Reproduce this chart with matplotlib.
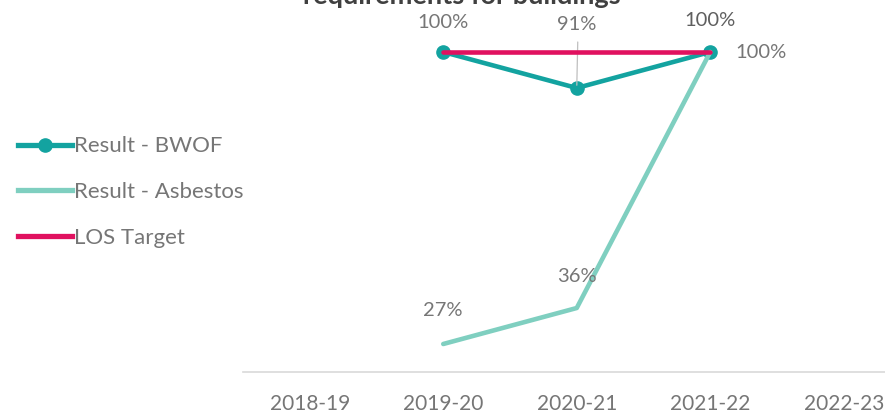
import matplotlib
matplotlib.use("Agg")
import matplotlib.pyplot as plt
from matplotlib.lines import Line2D

plt.rcParams['font.family'] = ['Lato', 'DejaVu Sans']

categories = ["2018-19", "2019-20", "2020-21", "2021-22", "2022-23"]
bwof = [None, 100, 91, 100, None]
asbestos = [None, 27, 36, 100, None]
los_target = [None, 100, 100, 100, None]
title = "requirements for buildings"

C_BWOF = "#13a3a0"
C_ASB = "#7fcfc0"
C_LOS = "#e0115f"
C_TXT = "#767676"

W, H = 885, 413
fig = plt.figure(figsize=(W / 100, H / 100), dpi=100)
ax = fig.add_axes([243 / W, 41 / H, 667.5 / W, 372 / H])

x = list(range(len(categories)))

def pts(vals):
    xs = [i for i, v in zip(x, vals) if v is not None]
    ys = [v for v in vals if v is not None]
    return xs, ys

lw = 3.3
xb, yb = pts(bwof)
ax.plot(xb, yb, color=C_BWOF, lw=lw, marker='o', ms=9.5, solid_capstyle='round', zorder=3)
xa, ya = pts(asbestos)
ax.plot(xa, ya, color=C_ASB, lw=lw, solid_capstyle='round', zorder=4)
xl, yl = pts(los_target)
ax.plot(xl, yl, color=C_LOS, lw=lw, solid_capstyle='round', zorder=5)

ax.set_xlim(-0.5, 4.5)
ax.set_ylim(20, 113)
ax.set_xticks(x)
ax.set_xticklabels(categories)
ax.set_yticks([])
for s in ['top', 'right', 'left']:
    ax.spines[s].set_visible(False)
ax.spines['bottom'].set_color('#d9d9d9')
ax.spines['bottom'].set_linewidth(1.2)
ax.tick_params(axis='x', length=0, pad=16, labelsize=15, labelcolor=C_TXT)
ax.patch.set_alpha(0)

fs = 14.5
def lab(xi, yi, text, dx, dy, color=C_TXT):
    ax.annotate(text, (xi, yi), xytext=(dx, dy), textcoords='offset pixels',
                ha='center', va='center', fontsize=fs, color=color,
                annotation_clip=False, zorder=6)

# BWOF labels
lab(1, bwof[1], "100%", 0, 30)
lab(2, bwof[2], "91%", 0, 64)
lab(3, bwof[3], "100%", 0, 32, color="#5f5f5f")
ax.annotate("", (2, bwof[2]), xytext=(1, 46), textcoords='offset pixels',
            arrowprops=dict(arrowstyle='-', color='#bfbfbf', lw=0.9, shrinkA=0, shrinkB=2))
# Asbestos labels
lab(1, asbestos[1], "27%", 0, 33)
lab(2, asbestos[2], "36%", 0, 32)
lab(3, asbestos[3], "100%", 51, 0)

fig.text(462 / W, 1 - 3.5 / H, title, ha='center', va='baseline',
         fontsize=19.5, fontweight='bold', color='#404040')

handles = [
    Line2D([], [], color=C_BWOF, lw=3.8, marker='o', ms=9.5),
    Line2D([], [], color=C_ASB, lw=3.8),
    Line2D([], [], color=C_LOS, lw=3.8),
]
labels = ["Result - BWOF", "Result - Asbestos", "LOS Target"]
fig.legend(handles, labels, loc='center left', bbox_to_anchor=(18 / W, 1 - 192 / H),
           frameon=False, fontsize=16, labelcolor=C_TXT, handlelength=2.45,
           handletextpad=0.08, labelspacing=1.15, borderpad=0, borderaxespad=0,
           markerfirst=True)

fig.savefig("out.png", dpi=100)
